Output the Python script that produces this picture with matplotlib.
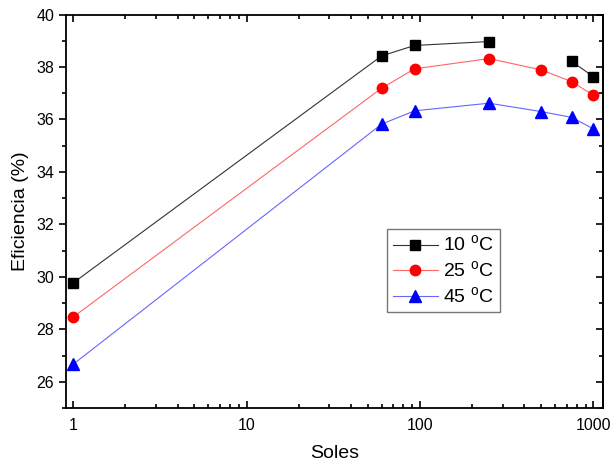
import numpy as np
import matplotlib
matplotlib.use("Agg")
import matplotlib.pyplot as plt
from matplotlib.ticker import LogLocator, FixedLocator, NullFormatter

plt.rcParams['font.family'] = ['Liberation Sans', 'DejaVu Sans']
plt.rcParams['mathtext.fontset'] = 'custom'
plt.rcParams['mathtext.rm'] = 'Liberation Sans'

# Concentration (soles) and efficiency at three temperatures
soles = [1, 60, 93, 250, 500, 750, 1000]
ef_10 = [29.77, 38.42, 38.82, 38.97, np.nan, 38.21, 37.63]
ef_25 = [28.47, 37.19, 37.93, 38.32, 37.89, 37.44, 36.92]
ef_45 = [26.67, 35.82, 36.33, 36.62, 36.30, 36.08, 35.64]
labels = ['10 $^{\\rm o}$C', '25 $^{\\rm o}$C', '45 $^{\\rm o}$C']

fig = plt.figure(figsize=(6.1, 4.68), dpi=100)
ax = fig.add_axes([0.108, 0.128, 0.8805, 0.841])

ax.plot(soles, ef_10, color='#333333', lw=0.8, marker='s', ms=6.5,
        mfc='black', mec='black', label=labels[0])
ax.plot(soles, ef_25, color='#ff6666', lw=0.8, marker='o', ms=7.5,
        mfc='red', mec='red', label=labels[1])
ax.plot(soles, ef_45, color='#6666ff', lw=0.8, marker='^', ms=8,
        mfc='blue', mec='blue', label=labels[2])

ax.set_xscale('log')
ax.set_xlim(0.908, 1135)
ax.set_ylim(25, 40)
ax.set_xticks([1, 10, 100, 1000])
ax.set_xticklabels(['1', '10', '100', '1000'])
ax.xaxis.set_minor_locator(LogLocator(base=10, subs=np.arange(2, 10)))
ax.xaxis.set_minor_formatter(NullFormatter())
ax.set_yticks(np.arange(26, 41, 2))
ax.yaxis.set_minor_locator(FixedLocator(np.arange(25, 40, 2)))

for s in ax.spines.values():
    s.set_linewidth(1.3)

# left ticks point out, bottom/top ticks point in
ax.tick_params(axis='y', which='both', direction='out', left=True, right=False,
               labelsize=11.5, width=1.2)
ax.tick_params(axis='x', which='both', direction='in', top=True, bottom=True,
               labelsize=11.5, width=1.2, pad=7)
ax.tick_params(which='major', length=5)
ax.tick_params(which='minor', length=3)

# right axis with inward ticks and no labels
rax = ax.secondary_yaxis('right')
rax.set_yticks(np.arange(26, 41, 2))
rax.yaxis.set_minor_locator(FixedLocator(np.arange(25, 40, 2)))
rax.tick_params(which='both', direction='in', labelright=False, width=1.2)
rax.tick_params(which='major', length=5)
rax.tick_params(which='minor', length=3)
rax.spines['right'].set_linewidth(1.3)

ax.set_xlabel('Soles', fontsize=14, labelpad=9)
ax.set_ylabel('Eficiencia (%)', fontsize=14, labelpad=5)

leg = ax.legend(loc='lower left', bbox_to_anchor=(0.598, 0.243), borderaxespad=0,
                fontsize=14, frameon=True, fancybox=False, handlelength=2.3,
                borderpad=0.3, labelspacing=0.25, handletextpad=0.3)
leg.get_frame().set_edgecolor('#555555')
leg.get_frame().set_linewidth(1.0)

fig.savefig('out.png', dpi=100)
